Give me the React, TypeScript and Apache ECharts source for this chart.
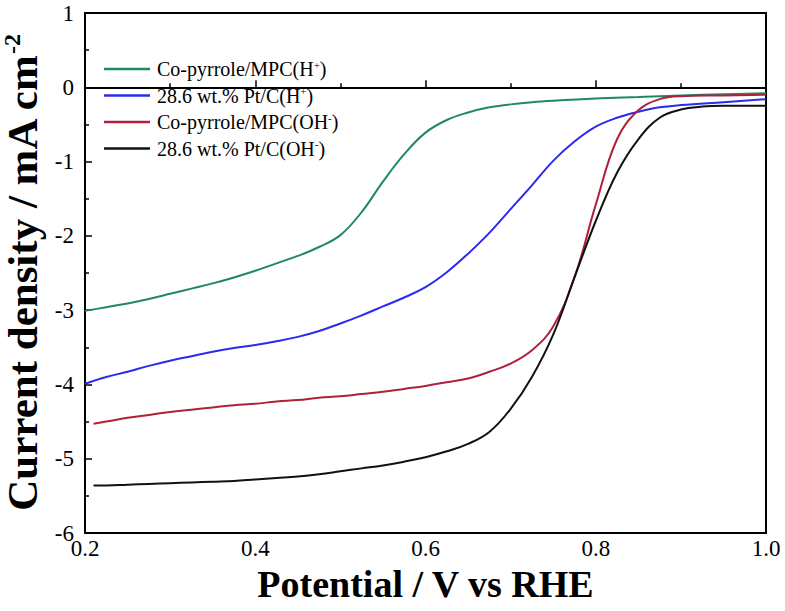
import React, { useEffect, useRef } from "react";
import * as echarts from "echarts";

const seriesNames = [
  "Co-pyrrole/MPC(H+)",
  "28.6 wt.% Pt/C(H+)",
  "Co-pyrrole/MPC(OH-)",
  "28.6 wt.% Pt/C(OH-)",
];
const seriesColors = ["#1f8a62", "#2a2af0", "#b0203c", "#111111"];

const greenX = [0.2, 0.225, 0.25, 0.275, 0.3, 0.325, 0.35, 0.375, 0.4, 0.425, 0.45, 0.475, 0.5, 0.525, 0.55, 0.575, 0.6, 0.625, 0.65, 0.675, 0.7, 0.725, 0.75, 0.8, 0.85, 0.9, 0.95, 1.0];
const greenY = [-3.01, -2.96, -2.91, -2.85, -2.78, -2.71, -2.64, -2.56, -2.47, -2.37, -2.27, -2.15, -1.99, -1.68, -1.27, -0.9, -0.61, -0.44, -0.34, -0.27, -0.23, -0.2, -0.18, -0.15, -0.13, -0.11, -0.095, -0.08];

const blueX = [0.2, 0.225, 0.25, 0.275, 0.3, 0.325, 0.35, 0.375, 0.4, 0.425, 0.45, 0.475, 0.5, 0.525, 0.55, 0.575, 0.6, 0.625, 0.65, 0.675, 0.7, 0.725, 0.75, 0.775, 0.8, 0.825, 0.85, 0.875, 0.9, 0.95, 1.0];
const blueY = [-3.99, -3.9, -3.83, -3.75, -3.68, -3.62, -3.56, -3.51, -3.47, -3.42, -3.36, -3.28, -3.18, -3.07, -2.95, -2.83, -2.69, -2.49, -2.24, -1.96, -1.64, -1.32, -0.99, -0.73, -0.53, -0.41, -0.33, -0.27, -0.24, -0.2, -0.16];

const redX = [0.21, 0.225, 0.25, 0.275, 0.3, 0.325, 0.35, 0.375, 0.4, 0.425, 0.45, 0.475, 0.5, 0.525, 0.55, 0.575, 0.6, 0.625, 0.65, 0.675, 0.7, 0.725, 0.75, 0.775, 0.8, 0.825, 0.85, 0.875, 0.9, 0.95, 1.0];
const redY = [-4.53, -4.5, -4.45, -4.41, -4.37, -4.34, -4.31, -4.28, -4.26, -4.23, -4.21, -4.18, -4.16, -4.13, -4.1, -4.06, -4.02, -3.97, -3.92, -3.83, -3.72, -3.54, -3.22, -2.56, -1.58, -0.7, -0.31, -0.16, -0.12, -0.11, -0.1];

const blackX = [0.21, 0.225, 0.25, 0.275, 0.3, 0.325, 0.35, 0.375, 0.4, 0.425, 0.45, 0.475, 0.5, 0.525, 0.55, 0.575, 0.6, 0.625, 0.65, 0.675, 0.7, 0.725, 0.75, 0.775, 0.8, 0.825, 0.85, 0.875, 0.9, 0.925, 0.95, 1.0];
const blackY = [-5.36, -5.36, -5.35, -5.34, -5.33, -5.32, -5.31, -5.3, -5.28, -5.26, -5.24, -5.21, -5.17, -5.13, -5.09, -5.04, -4.98, -4.9, -4.8, -4.64, -4.33, -3.9, -3.33, -2.56, -1.8, -1.15, -0.7, -0.41, -0.3, -0.26, -0.25, -0.25];

const xTicks = { min: 0.2, max: 1.0, interval: 0.2 };
const yTicks = { min: -6, max: 1, interval: 1 };

const FONT = "'Liberation Serif', 'Times New Roman', serif";

function zip(xs: number[], ys: number[]) {
  return xs.map((x, i) => [x, ys[i]]);
}

export default function App() {
  const ref = useRef<HTMLDivElement>(null);
  useEffect(() => {
    document.body.style.margin = "0";
    if (!ref.current) return;
    const chart = echarts.init(ref.current, undefined, { renderer: "svg" });
    const allData = [zip(greenX, greenY), zip(blueX, blueY), zip(redX, redY), zip(blackX, blackY)];
    chart.setOption({
      animation: false,
      grid: {
        left: 85,
        right: 19,
        top: 13,
        bottom: 78,
        outerBoundsMode: "none",
        containLabel: false,
        show: true,
        borderColor: "#000",
        borderWidth: 2,
        backgroundColor: "transparent",
      },
      legend: {
        orient: "vertical",
        left: 99,
        top: 54,
        icon: "rect",
        itemWidth: 46,
        itemHeight: 2.5,
        itemGap: 6.5,
        data: seriesNames,
        formatter: (name: string) =>
          name.replace("(H+)", "(H{sup|+})").replace("(OH-)", "(OH{sup|-})"),
        textStyle: {
          fontFamily: FONT,
          fontSize: 20,
          color: "#000",
          padding: [0, 0, 0, 2],
          rich: {
            sup: { fontFamily: FONT, fontSize: 11, color: "#000", verticalAlign: "top", padding: [0, 0, 9, 0] },
          },
        },
      },
      xAxis: {
        type: "value",
        min: xTicks.min,
        max: xTicks.max,
        interval: xTicks.interval,
        name: "Potential / V vs RHE",
        nameLocation: "middle",
        nameGap: 32,
        nameTextStyle: { fontFamily: FONT, fontSize: 38, fontWeight: "bold", color: "#000" },
        axisLine: { show: true, lineStyle: { color: "#000", width: 2 } },
        axisTick: { show: true, inside: true, length: 7, lineStyle: { color: "#000", width: 1.5 } },
        minorTick: { show: true, splitNumber: 2, length: 4, lineStyle: { color: "#000", width: 1.5 } },
        splitLine: { show: false },
        axisLabel: {
          fontFamily: FONT,
          fontSize: 23,
          color: "#000",
          margin: 4,
          formatter: (v: number) => v.toFixed(1),
        },
      },
      yAxis: {
        type: "value",
        min: yTicks.min,
        max: yTicks.max,
        interval: yTicks.interval,
        name: "{main|Current density / mA cm}{sup|-2}",
        nameLocation: "middle",
        nameRotate: 90,
        nameGap: 39,
        nameTextStyle: {
          fontFamily: FONT,
          fontSize: 43,
          fontWeight: "bold",
          color: "#000",
          rich: {
            main: { fontFamily: FONT, fontSize: 43, fontWeight: "bold", color: "#000" },
            sup: { fontFamily: FONT, fontSize: 24, fontWeight: "bold", color: "#000", verticalAlign: "top", padding: [0, 0, 20, 0] },
          },
        },
        axisLine: { show: true, lineStyle: { color: "#000", width: 2 } },
        axisTick: { show: true, inside: true, length: 7, lineStyle: { color: "#000", width: 1.5 } },
        minorTick: { show: true, splitNumber: 2, length: 4, lineStyle: { color: "#000", width: 1.5 } },
        splitLine: { show: false },
        axisLabel: { fontFamily: FONT, fontSize: 23, color: "#000", margin: 11 },
      },
      series: seriesNames.map((name, i) => ({
        name,
        type: "line",
        data: allData[i],
        smooth: 0.4,
        symbol: "none",
        lineStyle: { color: seriesColors[i], width: 2 },
        itemStyle: { color: seriesColors[i] },
      })),
    });
    return () => chart.dispose();
  }, []);
  return <div ref={ref} style={{ width: 785, height: 611 }} />;
}
